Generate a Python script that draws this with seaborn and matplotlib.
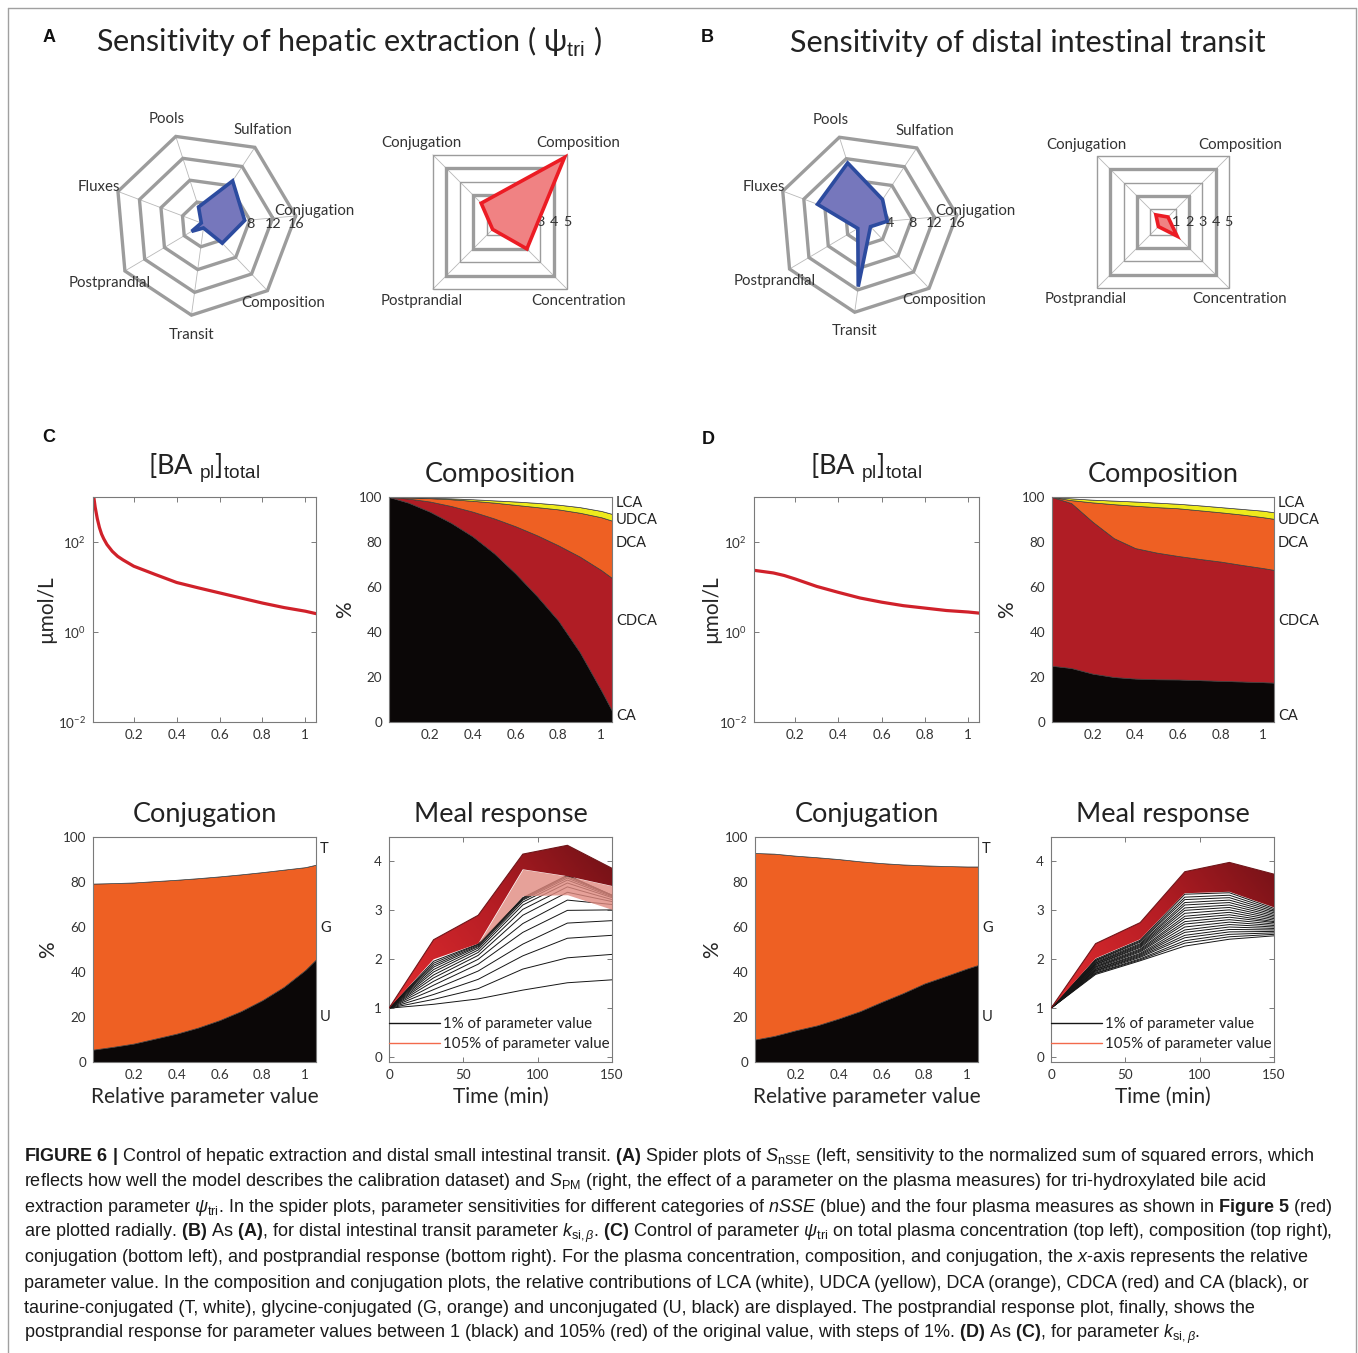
import numpy as np
import pandas as pd
import matplotlib
matplotlib.use('Agg')
import matplotlib.pyplot as plt
import matplotlib.transforms as mtransforms
import seaborn as sns
from matplotlib.lines import Line2D
from matplotlib.ticker import NullLocator
from matplotlib.colors import LinearSegmentedColormap

# ---------------- data ----------------
hept_names = ['Conjugation', 'Sulfation', 'Pools', 'Fluxes', 'Postprandial', 'Transit', 'Composition']
hept_a = [7.1, 9.0, 3.1, 0.5, 2.5, 0.7, 4.6]
hept_b = [3.6, 5.0, 11.2, 9.4, 1.9, 11.4, 0.9]
hept_rings = [4, 8, 12, 16]

sq_names = ['Composition', 'Conjugation', 'Postprandial', 'Concentration']
sq_a = [4.8, 1.4, 0.55, 2.0]
sq_b = [0.38, 0.54, 0.35, 1.07]
sq_rings = [1, 2, 3, 4, 5]

ba_c_x = [0.01, 0.015, 0.02, 0.03, 0.04, 0.05, 0.06, 0.075, 0.1, 0.125, 0.15, 0.2, 0.3,
          0.4, 0.5, 0.6, 0.7, 0.8, 0.9, 1.0, 1.05]
ba_c = [1500, 900, 600, 330, 210, 150, 118, 88, 62, 48, 40, 29, 19, 12.6, 9.6, 7.4, 5.7,
        4.4, 3.5, 2.9, 2.56]
ba_d_x = [0.01, 0.1, 0.15, 0.2, 0.3, 0.4, 0.5, 0.6, 0.7, 0.8, 0.9, 1.0, 1.05]
ba_d = [23.5, 20.5, 18.0, 15.1, 10.3, 7.6, 5.7, 4.6, 3.85, 3.4, 3.0, 2.78, 2.63]

x_rel = [0.01, 0.1, 0.2, 0.3, 0.4, 0.5, 0.6, 0.7, 0.8, 0.9, 1.0, 1.05]
comp_names = ['CA', 'CDCA', 'DCA', 'UDCA', 'LCA']
comp_c_ca = [100, 97.5, 93.5, 88.5, 82.5, 75, 66, 56, 45, 31, 14, 5]
comp_c_cdca = [0, 1.8, 4.5, 7.5, 11, 15.5, 21, 27, 33.5, 42.5, 53.5, 59]
comp_c_dca = [0, 0.5, 1.5, 3, 4.8, 7, 9.5, 12.5, 16, 19.5, 23.5, 25.5]
comp_c_udca = [0, 0.1, 0.2, 0.4, 0.7, 1, 1.5, 1.9, 2.1, 2.5, 2.8, 3]
comp_c_lca = [0, 0.1, 0.3, 0.6, 1, 1.5, 2, 2.6, 3.4, 4.5, 6.2, 7.5]
comp_d_ca = [25, 24, 21.5, 20, 19.3, 19, 18.9, 18.6, 18.3, 18, 17.7, 17.5]
comp_d_cdca = [75, 73.3, 67.5, 61.7, 58, 56.3, 54.9, 53.9, 53, 51.8, 50.7, 50.1]
comp_d_dca = [0, 1.3, 8.6, 15.1, 18.8, 20.2, 21.2, 21.6, 21.9, 22.4, 22.6, 22.7]
comp_d_udca = [0, 0.8, 1.2, 1.6, 1.9, 2, 2, 2.2, 2.3, 2.5, 2.9, 2.9]
comp_d_lca = [0, 0.6, 1.2, 1.6, 2, 2.5, 3, 3.7, 4.5, 5.3, 6.1, 6.8]

conj_names = ['U', 'G', 'T']
conj_c_u = [5.5, 6.7, 8.2, 10.4, 12.6, 15.3, 18.6, 22.6, 27.5, 33.4, 40.9, 45.6]
conj_c_g = [73.8, 72.8, 71.6, 70, 68.4, 66.4, 63.9, 60.8, 56.9, 52.1, 45.7, 42.1]
conj_c_t = [20.7, 20.5, 20.2, 19.6, 19, 18.3, 17.5, 16.6, 15.6, 14.5, 13.4, 12.3]
conj_d_u = [10, 11.6, 14.1, 16.3, 19.3, 22.6, 26.7, 30.6, 34.9, 38.2, 41.6, 43.1]
conj_d_g = [82.9, 81, 77.6, 74.7, 70.9, 66.6, 61.7, 57.2, 52.5, 48.9, 45.3, 43.8]
conj_d_t = [7.1, 7.4, 8.3, 9, 9.8, 10.8, 11.6, 12.2, 12.6, 12.9, 13.1, 13.1]

meal_t = [0, 30, 60, 90, 120, 150]
meal_c_lines = [
    [1.00, 1.08, 1.19, 1.37, 1.52, 1.58],
    [1.00, 1.18, 1.40, 1.80, 2.03, 2.10],
    [1.00, 1.28, 1.59, 2.07, 2.43, 2.49],
    [1.00, 1.38, 1.76, 2.31, 2.74, 2.79],
    [1.00, 1.47, 1.90, 2.55, 3.00, 3.01],
    [1.00, 1.55, 2.00, 2.73, 3.21, 3.12],
    [1.00, 1.62, 2.08, 2.90, 3.37, 3.18],
    [1.00, 1.68, 2.14, 3.02, 3.48, 3.22],
    [1.00, 1.74, 2.19, 3.11, 3.56, 3.26],
    [1.00, 1.79, 2.23, 3.17, 3.62, 3.28],
    [1.00, 1.84, 2.26, 3.21, 3.66, 3.30],
    [1.00, 1.88, 2.28, 3.23, 3.69, 3.31],
    [1.00, 1.92, 2.30, 3.25, 3.71, 3.31],
    [1.00, 1.96, 2.31, 3.26, 3.72, 3.31],
]
meal_c_band_low = [1.00, 2.00, 2.32, 3.30, 3.32, 3.02]
meal_c_band_mid = [1.00, 2.00, 2.32, 3.84, 3.70, 3.50]
meal_c_band_top = [1.00, 2.40, 2.90, 4.15, 4.33, 3.86]

meal_d_lines = [
    [1, 1.69, 1.97, 2.27, 2.41, 2.48],
    [1, 1.71, 1.99, 2.33, 2.46, 2.51],
    [1, 1.72, 2.01, 2.38, 2.51, 2.54],
    [1, 1.74, 2.04, 2.44, 2.56, 2.57],
    [1, 1.76, 2.06, 2.49, 2.61, 2.60],
    [1, 1.77, 2.08, 2.55, 2.66, 2.63],
    [1, 1.79, 2.10, 2.60, 2.71, 2.66],
    [1, 1.80, 2.12, 2.66, 2.76, 2.69],
    [1, 1.82, 2.15, 2.72, 2.81, 2.72],
    [1, 1.84, 2.17, 2.77, 2.86, 2.75],
    [1, 1.85, 2.19, 2.83, 2.91, 2.77],
    [1, 1.87, 2.21, 2.88, 2.96, 2.80],
    [1, 1.89, 2.24, 2.94, 3.01, 2.83],
    [1, 1.90, 2.26, 3.00, 3.06, 2.86],
    [1, 1.92, 2.28, 3.05, 3.11, 2.89],
    [1, 1.93, 2.30, 3.11, 3.16, 2.92],
    [1, 1.95, 2.32, 3.16, 3.21, 2.95],
    [1, 1.97, 2.35, 3.22, 3.26, 2.98],
    [1, 1.98, 2.37, 3.27, 3.31, 3.01],
    [1, 2.00, 2.39, 3.33, 3.36, 3.04],
]
meal_d_band_low = [1.00, 2.02, 2.41, 3.35, 3.38, 3.06]
meal_d_band_top = [1.00, 2.32, 2.75, 3.79, 3.98, 3.74]

legend_labels = ['1% of parameter value', '105% of parameter value']

caption = [
    r'$\mathbf{FIGURE\ 6\ |}$ Control of hepatic extraction and distal small intestinal transit. $\mathbf{(A)}$ Spider plots of $S_{\mathrm{nSSE}}$ (left, sensitivity to the normalized sum of squared errors, which',
    r'reflects how well the model describes the calibration dataset) and $S_{\mathrm{PM}}$ (right, the effect of a parameter on the plasma measures) for tri-hydroxylated bile acid',
    r'extraction parameter $\psi_{\mathrm{tri}}$. In the spider plots, parameter sensitivities for different categories of $nSSE$ (blue) and the four plasma measures as shown in $\mathbf{Figure\ 5}$ (red)',
    r'are plotted radially. $\mathbf{(B)}$ As $\mathbf{(A)}$, for distal intestinal transit parameter $k_{\mathrm{si},\beta}$. $\mathbf{(C)}$ Control of parameter $\psi_{\mathrm{tri}}$ on total plasma concentration (top left), composition (top right),',
    r'conjugation (bottom left), and postprandial response (bottom right). For the plasma concentration, composition, and conjugation, the $x$-axis represents the relative',
    r'parameter value. In the composition and conjugation plots, the relative contributions of LCA (white), UDCA (yellow), DCA (orange), CDCA (red) and CA (black), or',
    r'taurine-conjugated (T, white), glycine-conjugated (G, orange) and unconjugated (U, black) are displayed. The postprandial response plot, finally, shows the',
    r'postprandial response for parameter values between 1 (black) and 105% (red) of the original value, with steps of 1%. $\mathbf{(D)}$ As $\mathbf{(C)}$, for parameter $k_{\mathrm{si},\beta}$.',
]

# ---------------- style ----------------
W, H = 1358, 1353
sns.set_style('ticks')
plt.rcParams['font.family'] = ['Lato', 'DejaVu Sans']
plt.rcParams['mathtext.fontset'] = 'custom'
plt.rcParams['mathtext.rm'] = 'Liberation Sans'
plt.rcParams['mathtext.it'] = 'Liberation Sans:italic'
plt.rcParams['mathtext.bf'] = 'Liberation Sans:bold'
plt.rcParams['text.color'] = '#222222'

comp_colors = ['#0b0707', '#b01d25', '#ee6023', '#eeea1c', '#ffffff']
conj_colors = ['#0b0707', '#ee6023', '#ffffff']
band_cmap = LinearSegmentedColormap.from_list('band', ['#dc2a2e', '#b51d24', '#741217'])

fig = plt.figure(figsize=(W / 100, H / 100), dpi=100, facecolor='white')


def add_ax(x0, y0, x1, y1):
    return fig.add_axes([x0 / W, 1 - y1 / H, (x1 - x0) / W, (y1 - y0) / H])


def frame(ax):
    for s in ax.spines.values():
        s.set_visible(True)
        s.set_color('#7a7a7a')
        s.set_linewidth(0.8)
    ax.tick_params(direction='in', top=True, right=True, bottom=True, left=True,
                   length=3.5, width=0.7, color='#7a7a7a', labelsize=9.7,
                   labelcolor='#333333', pad=5)


def spider(cx, cy, scale, lim, names, vals, start, rings, ring_lw, tick_factor,
           label_shift, label_r, edge, face):
    ax = add_ax(cx - lim * scale, cy - lim * scale, cx + lim * scale, cy + lim * scale)
    ax.set_xlim(-lim, lim)
    ax.set_ylim(-lim, lim)
    ax.set_aspect('equal')
    ax.axis('off')
    n = len(names)
    ang = np.deg2rad(start + 360.0 * np.arange(n) / n)
    rmax = max(rings)
    for a in ang:
        ax.plot([0, rmax * np.cos(a)], [0, rmax * np.sin(a)], color='#b8b8b8', lw=0.6, zorder=1)
    closed = np.append(ang, ang[0])
    for r, lw in zip(rings, ring_lw):
        ax.plot(r * np.cos(closed), r * np.sin(closed), color='#9c9c9c', lw=lw, zorder=2,
                solid_joinstyle='miter')
    for r in rings:
        ax.text(r * tick_factor, 0, str(r), ha='center', va='center', fontsize=10.3,
                color='#333333', zorder=3)
    v = np.append(vals, vals[0])
    ax.fill(v * np.cos(closed), v * np.sin(closed), facecolor=face, edgecolor=edge,
            lw=2.6, zorder=4, joinstyle='miter')
    for name, a in zip(names, ang + np.deg2rad(label_shift)):
        ax.text(label_r * rmax * np.cos(a), label_r * rmax * np.sin(a), name, ha='center',
                va='center', fontsize=10.8, color='#333333', zorder=5)
    return ax


def ba_panel(box, x, y, ylab_x):
    ax = add_ax(*box)
    sns.lineplot(x=x, y=y, ax=ax, color='#d0212a', lw=2.3)
    ax.set_yscale('log')
    ax.set_xlim(0.01, 1.05)
    ax.set_ylim(1e-2, 1e3)
    ax.set_yticks([1e-2, 1, 1e2])
    ax.yaxis.set_minor_locator(NullLocator())
    ax.set_xticks([0.2, 0.4, 0.6, 0.8, 1])
    ax.set_xticklabels(['0.2', '0.4', '0.6', '0.8', '1'])
    frame(ax)
    ax.set_xlabel('')
    ax.set_ylabel('µmol/L', fontsize=15)
    ax.yaxis.set_label_coords(ylab_x, 0.5)
    ax.text(0.5, 1.1, r'[BA $_{\mathrm{pl}}$]$_{\mathrm{total}}$', transform=ax.transAxes,
            ha='center', va='baseline', fontsize=19.5)
    return ax


def stack_panel(box, layers, colors, names, label_y, title, ylab_x, xlabel=None):
    ax = add_ax(*box)
    ax.stackplot(x_rel, *layers, colors=colors, edgecolor='#3c3c3c', linewidth=0.5)
    ax.set_xlim(0.01, 1.05)
    ax.set_ylim(0, 100)
    ax.set_xticks([0.2, 0.4, 0.6, 0.8, 1])
    ax.set_xticklabels(['0.2', '0.4', '0.6', '0.8', '1'])
    ax.set_yticks([0, 20, 40, 60, 80, 100])
    frame(ax)
    ax.set_ylabel('%', fontsize=15)
    ax.yaxis.set_label_coords(ylab_x, 0.5)
    ax.set_title(title, fontsize=19.5, pad=10.5)
    trans = mtransforms.blended_transform_factory(ax.transAxes, ax.transData)
    for name, yv in zip(names, label_y):
        ax.text(1.018, yv, name, transform=trans, ha='left', va='center', fontsize=10.5,
                color='#222222')
    if xlabel:
        ax.set_xlabel(xlabel, fontsize=15)
        ax.xaxis.set_label_coords(0.5, -0.11)
    return ax


def meal_panel(box, lines, band_low, band_top, band_mid=None):
    ax = add_ax(*box)
    rows = [(i, t, v) for i, vals in enumerate(lines) for t, v in zip(meal_t, vals)]
    df = pd.DataFrame(rows, columns=['curve', 't', 'value'])
    sns.lineplot(data=df, x='t', y='value', units='curve', estimator=None, color='#151515',
                 lw=0.7, ax=ax, legend=False, zorder=2)
    solid_low = band_mid if band_mid is not None else band_low
    if band_mid is not None:
        ax.fill_between(meal_t, band_low, band_mid, color='#e08a80', alpha=0.8, lw=0, zorder=3)
    poly = ax.fill_between(meal_t, solid_low, band_top, color='none', lw=0, zorder=4)
    gx = np.linspace(0, 1, 200)
    gy = np.linspace(0, 1, 100)
    grad = np.clip(0.7 * gx[None, :] + 0.45 * gy[:, None] - 0.1, 0, 1)
    im = ax.imshow(grad, extent=[0, 150, 1.0, 4.5], origin='lower', aspect='auto',
                   cmap=band_cmap, zorder=4)
    im.set_clip_path(poly.get_paths()[0], transform=ax.transData)
    ax.plot(meal_t, band_top, color='#70161a', lw=0.8, zorder=5)
    ax.set_xlim(0, 150)
    ax.set_ylim(-0.1, 4.5)
    ax.set_xticks([0, 50, 100, 150])
    ax.set_yticks([0, 1, 2, 3, 4])
    frame(ax)
    ax.set_ylabel('')
    ax.set_xlabel('Time (min)', fontsize=15)
    ax.xaxis.set_label_coords(0.5, -0.11)
    ax.set_title('Meal response', fontsize=19.5, pad=10.5)
    handles = [Line2D([], [], color='#151515', lw=1.0), Line2D([], [], color='#f26a4c', lw=1.0)]
    ax.legend(handles, legend_labels, loc='lower left', bbox_to_anchor=(0.0, 0.05),
              frameon=False, fontsize=10.8, handlelength=3.4, handletextpad=0.2,
              labelspacing=0.4, borderaxespad=0, borderpad=0)
    return ax


# ---------------- frame and headings ----------------
for xs, ys in [([8, 8], [1353, 8]), ([8, 1356], [8, 8]), ([1356, 1356], [8, 1353])]:
    fig.add_artist(Line2D([x / W for x in xs], [1 - y / H for y in ys], transform=fig.transFigure,
                          color='#a0a0a0', lw=1.0))

for letter, (lx, ly) in {'A': (49, 37), 'B': (707, 37), 'C': (49, 438), 'D': (708, 440)}.items():
    fig.text(lx / W, 1 - ly / H, letter, ha='center', va='center', fontsize=13,
             fontweight='bold', family='Liberation Sans', color='#111111')

fig.text(349 / W, 1 - 52 / H, r'Sensitivity of hepatic extraction ( ψ$_{\mathrm{tri}}$ )',
         ha='center', va='baseline', fontsize=22)
fig.text(1028 / W, 1 - 52 / H, 'Sensitivity of distal intestinal transit',
         ha='center', va='baseline', fontsize=22)

# ---------------- spider plots ----------------
hept_lw = [2.4, 2.4, 2.4, 2.4]
sq_lw = [1.0, 2.4, 1.0, 2.4, 1.0]
spider(204, 224, 5.75, 24, hept_names, hept_a, 5, hept_rings, hept_lw, 1.0, 1.5, 1.21,
       '#2c4b9f', '#7677bc')
spider(500, 222, 19.0, 7, sq_names, sq_a, 45, sq_rings, sq_lw, np.cos(np.pi / 4), 0, 1.17,
       '#ec1c24', '#f08283')
spider(867, 223, 5.63, 24, hept_names, hept_b, 5, hept_rings, hept_lw, 1.0, 1.5, 1.21,
       '#2c4b9f', '#7677bc')
spider(1163, 222, 18.6, 7, sq_names, sq_b, 45, sq_rings, sq_lw, np.cos(np.pi / 4), 0, 1.17,
       '#ec1c24', '#f08283')

# ---------------- C and D panels ----------------
comp_label_y = [2.7, 45, 79.6, 90, 97.3]
conj_label_y = [20, 59.6, 94.7]

ba_panel((93, 497, 316, 722), ba_c_x, ba_c, -0.165)
stack_panel((389, 497, 612, 722), [comp_c_ca, comp_c_cdca, comp_c_dca, comp_c_udca, comp_c_lca],
            comp_colors, comp_names, comp_label_y, 'Composition', -0.152)
stack_panel((93, 837, 316, 1062), [conj_c_u, conj_c_g, conj_c_t], conj_colors, conj_names,
            conj_label_y, 'Conjugation', -0.156, 'Relative parameter value')
meal_panel((389, 837, 612, 1062), meal_c_lines, meal_c_band_low, meal_c_band_top, meal_c_band_mid)

ba_panel((754, 497, 979, 722), ba_d_x, ba_d, -0.147)
stack_panel((1052, 497, 1274, 722), [comp_d_ca, comp_d_cdca, comp_d_dca, comp_d_udca, comp_d_lca],
            comp_colors, comp_names, comp_label_y, 'Composition', -0.155)
stack_panel((755, 837, 978, 1062), [conj_d_u, conj_d_g, conj_d_t], conj_colors, conj_names,
            conj_label_y, 'Conjugation', -0.147, 'Relative parameter value')
meal_panel((1051, 837, 1274, 1062), meal_d_lines, meal_d_band_low, meal_d_band_top)

# ---------------- caption ----------------
for i, line in enumerate(caption):
    fig.text(24 / W, 1 - (1161 + 25.3 * i) / H, line, ha='left', va='baseline',
             fontsize=12.95, family='Liberation Sans', color='#1a1a1a')

fig.savefig('out.png', dpi=100, facecolor='white')
